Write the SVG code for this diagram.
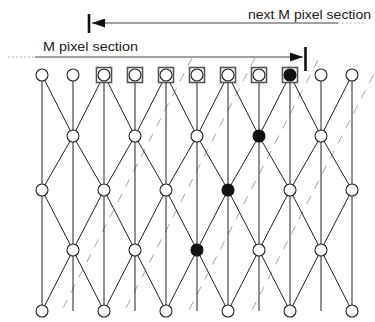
<svg xmlns="http://www.w3.org/2000/svg" width="375" height="322" viewBox="0 0 375 322">
<style>
.lbl{font-family:"Liberation Sans",Arial,sans-serif;font-size:13px;fill:#222}
.edge{fill:none;stroke:#222;stroke-width:1}
.hatch{fill:none;stroke:#9a9a9a;stroke-width:0.9;stroke-dasharray:9 8}
.dim{fill:none;stroke:#444;stroke-width:1.2}
.dot{fill:none;stroke:#999;stroke-width:1;stroke-dasharray:1.5 2.5}
.bar{stroke:#111;stroke-width:2.6}
.n{fill:#fff;stroke:#222;stroke-width:1.1}
.f{fill:#111;stroke:#111;stroke-width:1.1}
.sq{fill:#fff;stroke:#555;stroke-width:1.6}
</style>
<defs>
<marker id="ah" viewBox="0 0 13 9" refX="13" refY="4.5" markerWidth="13" markerHeight="9" markerUnits="userSpaceOnUse" orient="auto">
<path d="M0,0 L13,4.5 L0,9 Z" fill="#111"/>
</marker>
</defs>
<g id="hatching">
<line class="hatch" x1="192" y1="58" x2="61" y2="312"/>
<line class="hatch" x1="255" y1="58" x2="124" y2="312"/>
<line class="hatch" x1="318" y1="60" x2="188" y2="312"/>
<line class="hatch" x1="381" y1="60" x2="251" y2="312"/>
</g>
<g id="section-arrows">
<line class="dim" x1="338" y1="23" x2="92" y2="23" marker-end="url(#ah)"/>
<line class="dot" x1="338" y1="23" x2="366" y2="23"/>
<line class="bar" x1="89" y1="14" x2="89" y2="33"/>
<text class="lbl" x="248" y="19" textLength="123" lengthAdjust="spacingAndGlyphs">next M pixel section</text>
<line class="dot" x1="8" y1="57" x2="35" y2="57"/>
<line class="dim" x1="35" y1="57" x2="303" y2="57" marker-end="url(#ah)"/>
<line class="bar" x1="305.5" y1="47" x2="305.5" y2="71"/>
<text class="lbl" x="43" y="51" textLength="95" lengthAdjust="spacingAndGlyphs">M pixel section</text>
</g>
<g id="connectors">
<path class="edge" d="M42,75V311M73,75V311M104,75V311M135,75V311M166,75V311M197,75V311M228,75V311M259,75V311M290,75V311M321,75V311M352,75V311"/>
<polyline class="edge" points="42,75 73,136 104,75 135,136 166,75 197,136 228,75 259,136 290,75 321,136 352,75"/>
<polyline class="edge" points="42,190 73,136 104,190 135,136 166,190 197,136 228,190 259,136 290,190 321,136 352,190"/>
<polyline class="edge" points="42,190 73,250 104,190 135,250 166,190 197,250 228,190 259,250 290,190 321,250 352,190"/>
<polyline class="edge" points="42,311 73,250 104,311 135,250 166,311 197,250 228,311 259,250 290,311 321,250 352,311"/>
</g>
<g id="r1c1"><circle class="n" cx="42" cy="75" r="6"/></g>
<g id="r1c2"><circle class="n" cx="73" cy="75" r="6"/></g>
<g id="r1c3"><rect class="sq" x="96.5" y="67.5" width="15" height="15"/><circle class="n" cx="104" cy="75" r="6"/></g>
<g id="r1c4"><rect class="sq" x="127.5" y="67.5" width="15" height="15"/><circle class="n" cx="135" cy="75" r="6"/></g>
<g id="r1c5"><rect class="sq" x="158.5" y="67.5" width="15" height="15"/><circle class="n" cx="166" cy="75" r="6"/></g>
<g id="r1c6"><rect class="sq" x="189.5" y="67.5" width="15" height="15"/><circle class="n" cx="197" cy="75" r="6"/></g>
<g id="r1c7"><rect class="sq" x="220.5" y="67.5" width="15" height="15"/><circle class="n" cx="228" cy="75" r="6"/></g>
<g id="r1c8"><rect class="sq" x="251.5" y="67.5" width="15" height="15"/><circle class="n" cx="259" cy="75" r="6"/></g>
<g id="r1c9"><rect class="sq" x="282.5" y="67.5" width="15" height="15"/><circle class="f" cx="290" cy="75" r="6"/></g>
<g id="r1c10"><circle class="n" cx="321" cy="75" r="6"/></g>
<g id="r1c11"><circle class="n" cx="352" cy="75" r="6"/></g>
<g id="r2c2"><circle class="n" cx="73" cy="136" r="6"/></g>
<g id="r2c4"><circle class="n" cx="135" cy="136" r="6"/></g>
<g id="r2c6"><circle class="n" cx="197" cy="136" r="6"/></g>
<g id="r2c8"><circle class="f" cx="259" cy="136" r="6"/></g>
<g id="r2c10"><circle class="n" cx="321" cy="136" r="6"/></g>
<g id="r3c1"><circle class="n" cx="42" cy="190" r="6"/></g>
<g id="r3c3"><circle class="n" cx="104" cy="190" r="6"/></g>
<g id="r3c5"><circle class="n" cx="166" cy="190" r="6"/></g>
<g id="r3c7"><circle class="f" cx="228" cy="190" r="6"/></g>
<g id="r3c9"><circle class="n" cx="290" cy="190" r="6"/></g>
<g id="r3c11"><circle class="n" cx="352" cy="190" r="6"/></g>
<g id="r4c2"><circle class="n" cx="73" cy="250" r="6"/></g>
<g id="r4c4"><circle class="n" cx="135" cy="250" r="6"/></g>
<g id="r4c6"><circle class="f" cx="197" cy="250" r="6"/></g>
<g id="r4c8"><circle class="n" cx="259" cy="250" r="6"/></g>
<g id="r4c10"><circle class="n" cx="321" cy="250" r="6"/></g>
<g id="r5c1"><circle class="n" cx="42" cy="311" r="6"/></g>
<g id="r5c3"><circle class="n" cx="104" cy="311" r="6"/></g>
<g id="r5c5"><circle class="n" cx="166" cy="311" r="6"/></g>
<g id="r5c7"><circle class="n" cx="228" cy="311" r="6"/></g>
<g id="r5c9"><circle class="n" cx="290" cy="311" r="6"/></g>
<g id="r5c11"><circle class="n" cx="352" cy="311" r="6"/></g>
</svg>
